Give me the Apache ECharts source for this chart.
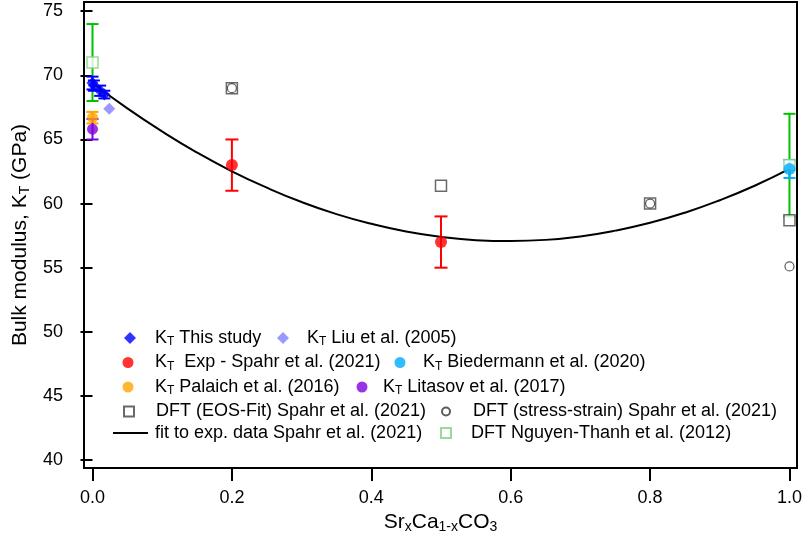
<!DOCTYPE html>
<html><head><meta charset="utf-8">
<script src="https://cdn.jsdelivr.net/npm/echarts@6/dist/echarts.min.js"></script>
<style>html,body{margin:0;padding:0;background:#fff}#c{width:803px;height:538px}</style>
</head><body><div id="c"></div>
<script>
// ---- data ----
const thisStudyX = [0.0, 0.002, 0.011, 0.017];
const thisStudyY = [69.4, 69.2, 68.8, 68.5];
const thisStudyErr = [0.5, 0.4, 0.4, 0.3];
const liuX = [0.024];
const liuY = [67.4];
const expX = [0.2, 0.5];
const expY = [63.0, 57.0];
const expErr = [2.0, 2.0];
const biedX = [1.0];
const biedY = [62.7];
const biedErr = [0.7];
const palaichX = [0.0];
const palaichY = [66.7];
const palaichErr = [0.45];
const litasovX = [0.0];
const litasovY = [65.8];
const litasovErr = [0.8];
const dftEosX = [0.2, 0.5, 0.8, 1.0];
const dftEosY = [69.0, 61.4, 60.0, 58.7];
const dftSsX = [0.2, 0.8, 1.0];
const dftSsY = [69.0, 60.0, 55.1];
const nguyenX = [0.0, 1.0];
const nguyenY = [71.0, 63.0];
const nguyenErr = [3.0, 4.0];
const fitX = [0,0.05,0.1,0.15,0.2,0.25,0.3,0.35,0.4,0.45,0.5,0.55,0.6,0.65,0.7,0.75,0.8,0.85,0.9,0.95,1.0];
const fitY = [69.4,67.42,65.62,63.98,62.52,61.24,60.12,59.18,58.42,57.82,57.4,57.15,57.08,57.17,57.44,57.89,58.5,59.29,60.26,61.39,62.7];
const xTicks = [0.0, 0.2, 0.4, 0.6, 0.8, 1.0];
const yTicks = [40, 45, 50, 55, 60, 65, 70, 75];
const names = ['KT This study','KT Liu et al. (2005)','KT Exp - Spahr et al. (2021)','KT Biedermann et al. (2020)',
  'KT Palaich et al. (2016)','KT Litasov et al. (2017)','DFT (EOS-Fit) Spahr et al. (2021)',
  'DFT (stress-strain) Spahr et al. (2021)','fit to exp. data Spahr et al. (2021)','DFT Nguyen-Thanh et al. (2012)'];
const legendLabels = {
  'KT This study':'{m|K}{s|T}{m| This study}',
  'KT Liu et al. (2005)':'{m|K}{s|T}{m| Liu et al. (2005)}',
  'KT Exp - Spahr et al. (2021)':'{m|K}{s|T}{m|  Exp - Spahr et al. (2021)}',
  'KT Biedermann et al. (2020)':'{m|K}{s|T}{m| Biedermann et al. (2020)}',
  'KT Palaich et al. (2016)':'{m|K}{s|T}{m| Palaich et al. (2016)}',
  'KT Litasov et al. (2017)':'{m|K}{s|T}{m| Litasov et al. (2017)}',
  'DFT (EOS-Fit) Spahr et al. (2021)':'{m|DFT (EOS-Fit) Spahr et al. (2021)}',
  'DFT (stress-strain) Spahr et al. (2021)':'{m|DFT (stress-strain) Spahr et al. (2021)}',
  'fit to exp. data Spahr et al. (2021)':'{m|fit to exp. data Spahr et al. (2021)}',
  'DFT Nguyen-Thanh et al. (2012)':'{m|DFT Nguyen-Thanh et al. (2012)}'
};

const zip = (xs, ys) => xs.map((x, i) => [x, ys[i]]);
const zip3 = (xs, ys, es) => xs.map((x, i) => [x, ys[i], es[i]]);

const FONT = 'Liberation Sans, Arial, sans-serif';

function errBar(color, cap, width) {
  return {
    type: 'custom',
    silent: true,
    z: 1,
    encode: {x: 0, y: 1},
    renderItem: function (params, api) {
      const x = api.value(0), y = api.value(1), e = api.value(2);
      const t = api.coord([x, y + e]);
      const b = api.coord([x, y - e]);
      const h = cap / 2;
      const st = {stroke: color, lineWidth: width};
      return {type: 'group', children: [
        {type: 'line', shape: {x1: t[0], y1: t[1], x2: b[0], y2: b[1]}, style: st},
        {type: 'line', shape: {x1: t[0] - h, y1: t[1], x2: t[0] + h, y2: t[1]}, style: st},
        {type: 'line', shape: {x1: b[0] - h, y1: b[1], x2: b[0] + h, y2: b[1]}, style: st}
      ]};
    }
  };
}

const chart = echarts.init(document.getElementById('c'), null, {renderer: 'canvas'});

// legend item: icon centre cx, text start tx, row centre cy, icon w/h
function leg(name, icon, cx, tx, cy, w, h) {
  const left = cx - w / 2;
  const gap = Math.max(0, tx - left - w - 5);
  return {
    data: [{name: name, icon: icon}], left: left, top: cy - 10, padding: 0,
    itemWidth: w, itemHeight: h, selectedMode: false, symbolKeepAspect: true,
    formatter: n => '{g| }' + legendLabels[n],
    textStyle: {fontFamily: FONT, fontSize: 18, lineHeight: 20, rich: {
      g: {width: gap, fontSize: 18, lineHeight: 20},
      m: {fontFamily: FONT, fontSize: 18, lineHeight: 20, color: '#000'},
      s: {fontFamily: FONT, fontSize: 12, lineHeight: 12, verticalAlign: 'bottom', color: '#000'}
    }}
  };
}

const titleRich = {
  m: {fontFamily: FONT, fontSize: 21, lineHeight: 24, color: '#000'},
  s: {fontFamily: FONT, fontSize: 14, lineHeight: 11, verticalAlign: 'bottom', color: '#000'}
};

const option = {
  animation: false,
  backgroundColor: '#fff',
  grid: {left: 84, right: 6, top: 2, bottom: 70, show: true, borderColor: '#000', borderWidth: 2,
    backgroundColor: 'transparent', containLabel: false, outerBoundsMode: 'none'},
  xAxis: {
    type: 'value', min: -0.0122, max: 1.0108,
    axisLine: {show: false},
    splitLine: {show: false},
    axisTick: {show: true, customValues: xTicks, length: 13, lineStyle: {color: '#000', width: 2}},
    axisLabel: {customValues: xTicks, formatter: v => v.toFixed(1), margin: 21, fontFamily: FONT, fontSize: 18, color: '#000'},
    name: '{m|Sr}{s|x}{m|Ca}{s|1-x}{m|CO}{s|3}',
    nameLocation: 'middle', nameGap: 41,
    nameTextStyle: {rich: titleRich}
  },
  yAxis: {
    type: 'value', min: 39.38, max: 75.72,
    axisLine: {show: false},
    splitLine: {show: false},
    axisTick: {show: true, customValues: yTicks, length: 12, lineStyle: {color: '#000', width: 2}},
    axisLabel: {customValues: yTicks, margin: 21, fontFamily: FONT, fontSize: 18, color: '#000'},
    name: '{m|Bulk modulus, K}{s|T}{m| (GPa)}',
    nameLocation: 'middle', nameGap: 48,
    nameTextStyle: {rich: titleRich}
  },
  legend: [
    leg(names[0], 'diamond', 130, 155, 338, 12, 12),
    leg(names[1], 'diamond', 283, 307, 338, 12, 12),
    leg(names[2], 'circle', 128, 155, 362.5, 11, 11),
    leg(names[3], 'circle', 400, 423, 362.5, 11, 11),
    leg(names[4], 'circle', 128, 155, 387, 11, 11),
    leg(names[5], 'circle', 362, 383, 387, 11, 11),
    leg(names[6], 'rect', 128, 155, 411.5, 10, 10),
    leg(names[7], 'circle', 445, 472, 411.5, 8, 8),
    leg(names[8], 'rect', 130.5, 155, 433, 35, 2),
    leg(names[9], 'rect', 445, 470, 433, 10, 10)
  ],
  series: [
    Object.assign(errBar('#00C000', 12, 2), {data: zip3(nguyenX, nguyenY, nguyenErr)}),
    Object.assign(errBar('#FF0000', 13, 2), {data: zip3(expX, expY, expErr)}),
    Object.assign(errBar('#00AAFF', 12, 2), {data: zip3(biedX, biedY, biedErr)}),
    Object.assign(errBar('#FFA500', 12, 2), {data: zip3(palaichX, palaichY, palaichErr)}),
    Object.assign(errBar('#7F00E0', 12, 2), {data: zip3(litasovX, litasovY, litasovErr)}),
    Object.assign(errBar('#0000FF', 12, 2), {data: zip3(thisStudyX, thisStudyY, thisStudyErr)}),
    {name: names[8], type: 'line', data: zip(fitX, fitY), smooth: true, symbol: 'none', z: 2,
      lineStyle: {color: '#000', width: 2}, itemStyle: {color: '#000'}},
    {name: names[6], type: 'scatter', data: zip(dftEosX, dftEosY), symbol: 'rect', symbolSize: 11, z: 3,
      itemStyle: {color: '#fff', borderColor: '#444', borderWidth: 1.5}},
    {name: names[7], type: 'scatter', data: zip(dftSsX, dftSsY), symbol: 'circle', symbolSize: 9, z: 4,
      itemStyle: {color: '#fff', borderColor: '#333', borderWidth: 1.2}},
    {name: names[9], type: 'scatter', data: zip(nguyenX, nguyenY), symbol: 'rect', symbolSize: 11, z: 3,
      itemStyle: {color: '#fff', borderColor: '#80D080', borderWidth: 1.5}},
    {name: names[4], type: 'scatter', data: zip(palaichX, palaichY), symbol: 'circle', symbolSize: 11, z: 5,
      itemStyle: {color: '#FFA500'}},
    {name: names[5], type: 'scatter', data: zip(litasovX, litasovY), symbol: 'circle', symbolSize: 11, z: 5,
      itemStyle: {color: '#7F00E0'}},
    {name: names[2], type: 'scatter', data: zip(expX, expY), symbol: 'circle', symbolSize: 12, z: 5,
      itemStyle: {color: '#FF0000'}},
    {name: names[3], type: 'scatter', data: zip(biedX, biedY), symbol: 'circle', symbolSize: 12, z: 5,
      itemStyle: {color: '#00AAFF'}},
    {name: names[1], type: 'scatter', data: zip(liuX, liuY), symbol: 'diamond', symbolSize: 12, z: 5,
      itemStyle: {color: '#8080FF'}},
    {name: names[0], type: 'scatter', data: zip(thisStudyX, thisStudyY), symbol: 'diamond', symbolSize: 12, z: 6,
      itemStyle: {color: '#0000FF'}}
  ]
};
chart.setOption(option);
</script>
</body></html>
